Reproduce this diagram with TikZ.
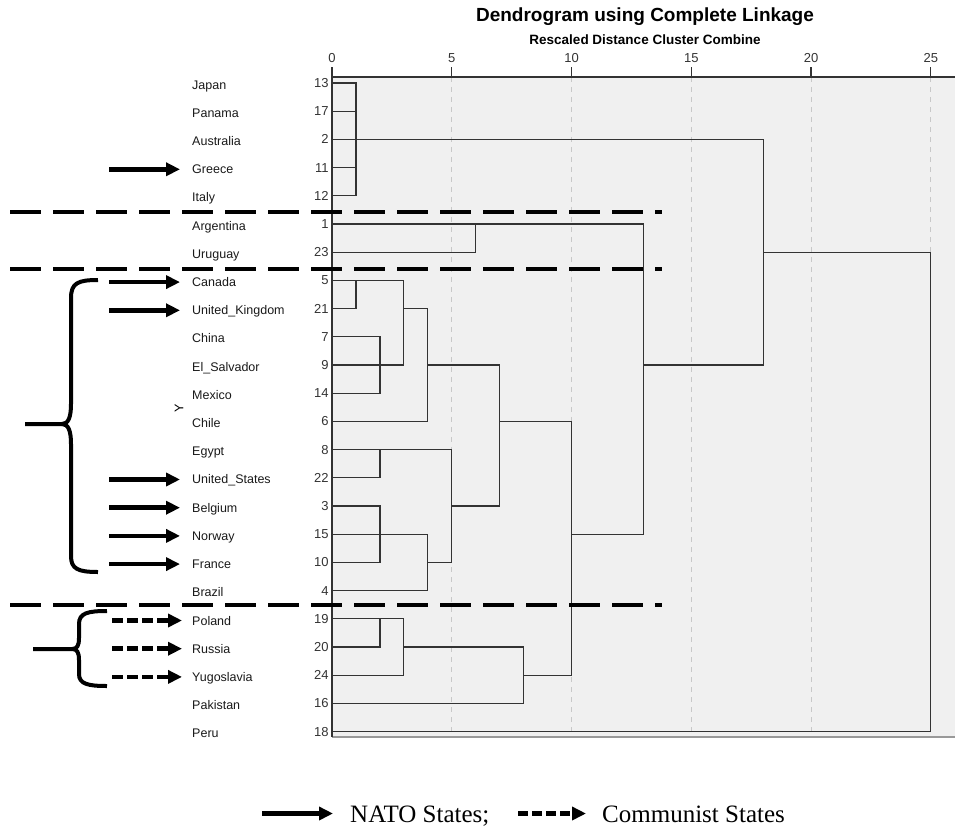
\documentclass[tikz,border=0pt]{standalone}
\usepackage{fontspec}
\setmainfont{Liberation Sans}
\newfontfamily\legendfont{Liberation Serif}
\usetikzlibrary{arrows.meta,positioning}

\definecolor{plotbg}{HTML}{F0F0F0}
\definecolor{linkgray}{HTML}{333333}
\definecolor{gridgray}{HTML}{C8C8C8}
\definecolor{framegray}{HTML}{999999}

\tikzset{
  link/.style={draw=linkgray, line width=1.2pt, line cap=rect},
  axisline/.style={draw=linkgray, line width=1.3pt},
  gridline/.style={draw=gridgray, line width=1pt, dash pattern=on 5pt off 5pt},
  cname/.style={anchor=west, inner sep=0pt, text height=9pt, text depth=0pt,
    text=black!90, font=\fontsize{12.5}{14}\selectfont},
  cnum/.style={anchor=east, inner sep=0pt, text height=9pt, text depth=0pt,
    text=linkgray, font=\fontsize{13}{15}\selectfont},
  ticklbl/.style={inner sep=0pt, text=linkgray, font=\fontsize{13}{15}\selectfont},
  nato/.style={line width=4.5pt, -{Triangle[length=14pt,width=13pt]}},
  comm/.style={nato, dash pattern=on 11pt off 4pt},
  sepline/.style={line width=4pt, dash pattern=on 31pt off 12pt},
  bracket/.style={line width=4pt},
  legtext/.style={anchor=base west, inner sep=0pt, text height=17pt, text depth=0pt,
    font=\legendfont\fontsize{25}{28}\selectfont}
}

\begin{document}
\begin{tikzpicture}[x=1pt, y=-1pt]
\useasboundingbox (0,0) rectangle (955,835);

\node[font=\bfseries\fontsize{19}{22}\selectfont] (title) at (645,17) {Dendrogram using Complete Linkage};
\node[font=\bfseries\fontsize{13.5}{16}\selectfont] (subtitle) at (645,40) {Rescaled Distance Cluster Combine};

\begin{scope}[shift={(332,83)}, x=23.95pt, y=-28.2pt]
  \fill[plotbg] (0,-0.213) rectangle (26.1,23.19);
  \foreach \t in {5,10,...,25}
    \draw[gridline] (\t,-0.213) -- (\t,23.19);
  \draw[framegray, line width=2pt] (0,23.19) -- (26.1,23.19);
  \draw[axisline] (0,-0.213) -- (26.1,-0.213);
  \draw[axisline] (0,-0.213) -- (0,23.19);
  \foreach \t in {0,5,...,25} {
    \draw[axisline] (\t,-0.213) -- (\t,-0.567);
    \node[ticklbl] (tick\t) at (\t,-0.887) {\t};
  }

  % cases
  \foreach \name/\num [count=\i from 0] in {Japan/13, Panama/17, Australia/2, Greece/11,
      Italy/12, Argentina/1, Uruguay/23, Canada/5, United\_Kingdom/21, China/7,
      El\_Salvador/9, Mexico/14, Chile/6, Egypt/8, United\_States/22, Belgium/3,
      Norway/15, France/10, Brazil/4, Poland/19, Russia/20, Yugoslavia/24,
      Pakistan/16, Peru/18} {
    \node[cname] (name\i) at (-5.845,\i+0.06) {\name};
    \node[cnum] (num\i) at (-0.13,\i) {\num};
  }

  % leaves
  \foreach \i/\d in {0/1, 1/1, 2/1, 3/1, 4/1, 5/6, 6/6, 7/1, 8/1, 9/2, 10/2, 11/2,
      12/4, 13/2, 14/2, 15/2, 16/2, 17/2, 18/4, 19/2, 20/2, 21/3, 22/8, 23/25}
    \draw[link] (0,\i) -- (\d,\i);

  % merges: distance / first row / last row / joined row / next distance
  \foreach \d/\a/\b/\m/\p in {1/0/4/2/18, 6/5/6/5/13, 1/7/8/7/3, 2/9/11/10/3,
      3/7/10/8/4, 4/8/12/10/7, 2/13/14/13/5, 2/15/17/16/4, 4/16/18/17/5,
      5/13/17/15/7, 7/10/15/12/10, 2/19/20/19/3, 3/19/21/20/8, 8/20/22/21/10,
      10/12/21/16/13, 13/5/16/10/18, 18/2/10/6/25} {
    \draw[link] (\d,\a) -- (\d,\b);
    \draw[link] (\d,\m) -- (\p,\m);
  }
  \draw[link] (25,6) -- (25,23);
\end{scope}

\node[rotate=90, inner sep=0pt, font=\fontsize{12.5}{14}\selectfont] (ylabel) at (179,408) {Y};

% group separators
\draw[sepline] (10,212) -- (662,212);
\draw[sepline] (10,269) -- (662,269);
\draw[sepline] (10,605) -- (662,605);

% NATO and communist markers
\foreach \i in {3,7,8,14,15,16,17}
  \draw[nato] ([xshift=-83pt]name\i.west) -- ([xshift=-12pt]name\i.west);
\foreach \i in {19,20,21}
  \draw[comm] ([xshift=-80pt]name\i.west) -- ([xshift=-10pt]name\i.west);

\draw[bracket] (98,280) .. controls (78,280) and (71,283) .. (71,298) -- (71,404)
  .. controls (71,418) and (68,424) .. (62,424) -- (25,424);
\draw[bracket] (62,424) .. controls (68,424) and (71,430) .. (71,444) -- (71,556)
  .. controls (71,569) and (78,572) .. (98,572);
\draw[bracket] (107,611) .. controls (88,611) and (79,613) .. (79,624) -- (79,638)
  .. controls (79,646) and (77,649) .. (72,649) -- (33,649);
\draw[bracket] (72,649) .. controls (77,649) and (79,652) .. (79,660) -- (79,674)
  .. controls (79,684) and (88,686) .. (107,686);

% legend
\node[legtext] (natolbl) at (350,822) {NATO States;};
\node[legtext] (commlbl) at (602,822) {Communist States};
\draw[nato] ([xshift=-88pt]natolbl.west) -- ([xshift=-17pt]natolbl.west);
\draw[comm, dash pattern=on 10pt off 4pt] ([xshift=-84pt]commlbl.west) -- ([xshift=-16pt]commlbl.west);
\end{tikzpicture}
\end{document}
